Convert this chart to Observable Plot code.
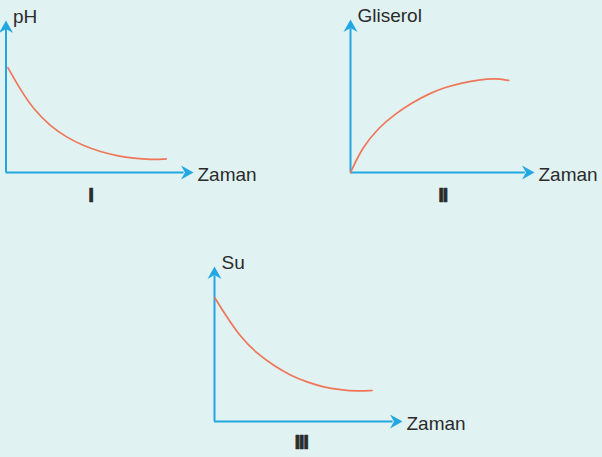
<!DOCTYPE html>
<html>
<head>
<meta charset="utf-8">
<script src="https://cdn.jsdelivr.net/npm/d3@7"></script>
<script src="https://cdn.jsdelivr.net/npm/@observablehq/plot@0.6"></script>
<style>
  html, body { margin: 0; padding: 0; background: #e1f2f3; }
  #chart { position: relative; width: 602px; height: 457px; background: #e1f2f3; overflow: hidden; }
  #chart svg { position: absolute; overflow: visible; }
</style>
</head>
<body>
<div id="chart"></div>
<script>
// ---- data (time in arbitrary units 0..10) ----
const timeI = [0.1, 0.77, 1.48, 2.37, 3.26, 4.15, 5.04, 5.93, 6.82, 7.71, 8.54];
const phValues = [6.9, 5.44, 4.14, 3.05, 2.29, 1.75, 1.36, 1.10, 0.93, 0.84, 0.89];

const timeII = [0, 0.64, 1.54, 2.45, 3.35, 4.26, 5.16, 6.07, 6.97, 7.88, 8.60];
const glycerolValues = [0, 1.64, 2.94, 3.85, 4.56, 5.15, 5.58, 5.86, 6.06, 6.15, 6.02];

const timeIII = [0.02, 0.49, 1.38, 2.27, 3.15, 4.04, 4.93, 5.81, 6.70, 7.59, 8.39];
const waterValues = [7.98, 7.05, 5.44, 4.37, 3.61, 2.97, 2.54, 2.21, 2.05, 1.95, 2.0];

const yLabels = ["pH", "Gliserol", "Su"];
const xLabel = "Zaman";
const panelLabels = ["I", "II", "III"];

// ---- styling / layout ----
const axisColor = "#22a7e2";
const curveColor = "#ef7659";
const textColor = "#2b2b2b";
const font = "'Liberation Sans', Arial, Helvetica, sans-serif";
const domain = [0, 10];

const series = [
  {t: timeI, v: phValues},
  {t: timeII, v: glycerolValues},
  {t: timeIII, v: waterValues}
];

const layouts = [
  {left: 0,   top: 0,   width: 300, height: 215, marginLeft: 5.5, marginRight: 107, marginTop: 20, marginBottom: 43, numeralX: 4.5, numeralDy: 29},
  {left: 300, top: 0,   width: 302, height: 215, marginLeft: 50,  marginRight: 68,  marginTop: 19, marginBottom: 43, numeralX: 5.0, numeralDy: 29},
  {left: 150, top: 230, width: 300, height: 227, marginLeft: 64,  marginRight: 48,  marginTop: 36, marginBottom: 36, numeralX: 4.6, numeralDy: 27}
];

// barbed arrowheads (tip at the symbol origin)
const headLen = 12.5, headHalf = 7, notch = 8.5;
const arrowRight = {draw(ctx) {
  ctx.moveTo(0, 0); ctx.lineTo(-headLen, -headHalf); ctx.lineTo(-notch, 0); ctx.lineTo(-headLen, headHalf); ctx.closePath();
}};
const arrowUp = {draw(ctx) {
  ctx.moveTo(0, 0); ctx.lineTo(headHalf, headLen); ctx.lineTo(0, notch); ctx.lineTo(-headHalf, headLen); ctx.closePath();
}};

const chart = document.getElementById("chart");

series.forEach((s, i) => {
  const L = layouts[i];
  const rows = s.t.map((t, j) => ({t, v: s.v[j]}));
  const [d0, d1] = domain;
  const svg = Plot.plot({
    width: L.width,
    height: L.height,
    marginLeft: L.marginLeft,
    marginRight: L.marginRight,
    marginTop: L.marginTop,
    marginBottom: L.marginBottom,
    x: {domain, axis: null},
    y: {domain, axis: null},
    style: {background: "transparent", overflow: "visible", fontFamily: font},
    marks: [
      // axes shafts
      Plot.ruleY([d0], {x1: d0, x2: d1 - 0.5, stroke: axisColor, strokeWidth: 2}),
      Plot.ruleX([d0], {y1: d0, y2: d1 - 0.6, stroke: axisColor, strokeWidth: 2}),
      // arrowheads
      Plot.dot([d1], {x: d1, y: d0, symbol: arrowRight, fill: axisColor, stroke: "none"}),
      Plot.dot([d1], {x: d0, y: d1, symbol: arrowUp, fill: axisColor, stroke: "none"}),
      // curve
      Plot.line(rows, {x: "t", y: "v", curve: "basis", stroke: curveColor, strokeWidth: 1.7}),
      // labels
      Plot.text([yLabels[i]], {frameAnchor: "top-left", text: d => d, textAnchor: "start", lineAnchor: "bottom",
        dx: 7, dy: 2, fontSize: 19, fill: textColor}),
      Plot.text([xLabel], {frameAnchor: "bottom-right", text: d => d, textAnchor: "start", lineAnchor: "bottom",
        dx: 4, dy: 8, fontSize: 19, fill: textColor}),
      Plot.text([panelLabels[i]], {x: L.numeralX, frameAnchor: "bottom", text: d => d, textAnchor: "middle", lineAnchor: "bottom",
        dy: L.numeralDy, fontSize: 21, fontWeight: "bold", fill: textColor, stroke: textColor, strokeWidth: 0.7})
    ]
  });
  svg.style.left = L.left + "px";
  svg.style.top = L.top + "px";
  d3.select(svg).selectAll("text").filter(function() { return /^I+$/.test(this.textContent); })
    .style("letter-spacing", "-1.5px");
  chart.appendChild(svg);
});
</script>
</body>
</html>
